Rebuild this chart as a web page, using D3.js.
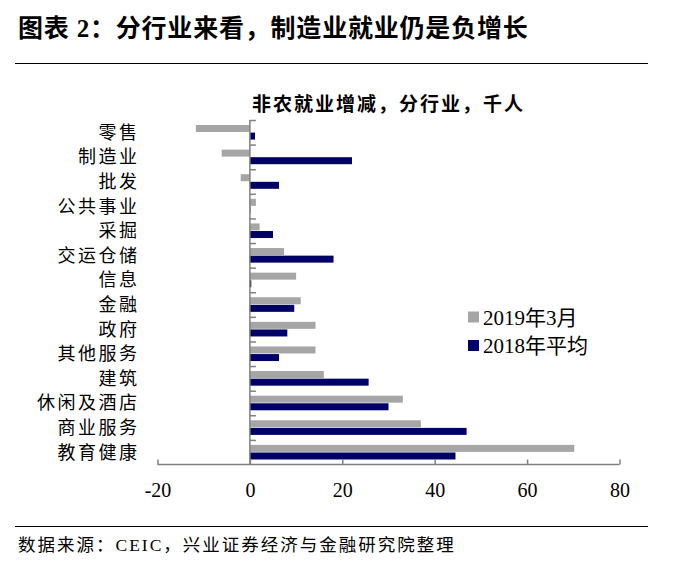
<!DOCTYPE html>
<html><head><meta charset="utf-8">
<script src="https://cdn.jsdelivr.net/npm/d3@7/dist/d3.min.js"></script>
<style>body{margin:0;background:#fff}</style>
</head><body>
<svg id="c" width="678" height="574"></svg>
<script>
const categories = ["零售","制造业","批发","公共事业","采掘","交运仓储","信息","金融","政府","其他服务","建筑","休闲及酒店","商业服务","教育健康"];
const mar2019 = [-11.7,-6.1,-2.0,1.3,2.1,7.4,10.0,11.0,14.2,14.2,16.0,33.1,37.0,70.2];
const avg2018 = [1.1,22.1,6.3,0.1,5.0,18.1,0.3,9.6,8.1,6.3,25.7,30.0,46.9,44.5];
const xTicks = [-20,0,20,40,60,80];
const seriesNames = ["2019年3月","2018年平均"];
const colors = ["#a6a6a6","#000066"];

const svg = d3.select("#c");
const serif = "'Liberation Serif','Noto Sans CJK SC',serif";
const cjk = "'Liberation Serif','Noto Sans CJK SC',sans-serif";

// title
svg.append("text").attr("x",18).attr("y",37).attr("font-family",cjk).attr("font-weight","bold")
  .attr("font-size",25).attr("letter-spacing",0.8).attr("fill","#000").text("图表 2：分行业来看，制造业就业仍是负增长");
svg.append("line").attr("x1",15).attr("x2",648).attr("y1",63.5).attr("y2",63.5).attr("stroke","#000").attr("stroke-width",1);
svg.append("line").attr("x1",15).attr("x2",648).attr("y1",526.5).attr("y2",526.5).attr("stroke","#000").attr("stroke-width",1);
svg.append("text").attr("x",18).attr("y",551).attr("font-family",cjk)
  .attr("font-size",17.5).attr("letter-spacing",2).attr("fill","#000").text("数据来源：CEIC，兴业证券经济与金融研究院整理");

// subtitle
svg.append("text").attr("x",252).attr("y",111).attr("font-family",cjk).attr("font-weight","bold")
  .attr("font-size",19).attr("letter-spacing",2).attr("fill","#000").text("非农就业增减，分行业，千人");

const x = d3.scaleLinear().domain([-20,80]).range([157.5,619.5]);
const y = d3.scaleBand().domain(categories).range([120,464.5]).paddingInner(0).paddingOuter(0);
const barH = 7, pad = 5;

const g = svg.append("g");
categories.forEach((c,i)=>{
  const b = y(c);
  [mar2019[i], avg2018[i]].forEach((v,j)=>{
    g.append("rect")
      .attr("x", x(Math.min(0,v)))
      .attr("width", Math.abs(x(v)-x(0)))
      .attr("y", b + pad + j*(barH+0.6))
      .attr("height", barH)
      .attr("fill", colors[j]);
  });
});

// x axis
const xAxis = d3.axisBottom(x).tickValues(xTicks).tickSize(-5).tickPadding(14).tickFormat(d3.format("d"));
const xg = svg.append("g").attr("transform","translate(0,464.5)").call(xAxis);
xg.select(".domain").attr("stroke","#808080").attr("stroke-width",1.5).attr("d","M157.5,0H619.5");
xg.selectAll(".tick line").attr("stroke","#808080").attr("stroke-width",1.5);
xg.selectAll(".tick text").attr("font-family",serif).attr("font-size",20).attr("fill","#000")
  .attr("y",null).attr("dy",null).attr("transform","translate(0,32)")
  .text(d=> d<0 ? "-"+Math.abs(d) : d);

// y axis at zero
const yg = svg.append("g").attr("transform",`translate(${x(0)},0)`);
yg.append("line").attr("x1",0).attr("x2",0).attr("y1",120).attr("y2",464.5).attr("stroke","#808080").attr("stroke-width",1.5);
const bounds = categories.map(c=>y(c));
yg.selectAll("line.t").data(bounds).enter().append("line").attr("class","t")
  .attr("x1",0).attr("x2",6).attr("y1",d=>d+0.5).attr("y2",d=>d+0.5).attr("stroke","#808080").attr("stroke-width",1.5);

// category labels
svg.append("g").selectAll("text").data(categories).enter().append("text")
  .attr("x",139.5).attr("y",d=>y(d)+y.bandwidth()/2).attr("dy","0.36em")
  .attr("text-anchor","end").attr("font-family",cjk).attr("font-size",18).attr("letter-spacing",2.5)
  .attr("fill","#000").text(d=>d);

// legend
seriesNames.forEach((s,i)=>{
  const ly = 311.5 + i*28.5;
  svg.append("rect").attr("x",468).attr("y",ly).attr("width",11).attr("height",11).attr("fill",colors[i]);
  svg.append("text").attr("x",483).attr("y",ly+5.5).attr("dy","0.36em").attr("font-family",cjk)
    .attr("font-size",21).attr("fill","#000").text(s);
});
</script>
</body></html>
